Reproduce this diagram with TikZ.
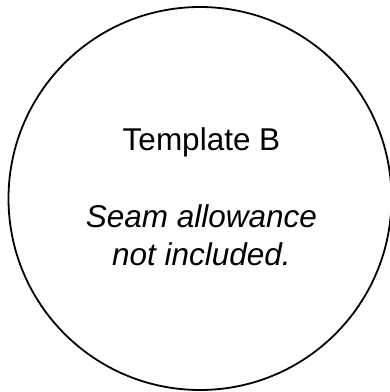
\documentclass[tikz,border=0pt]{standalone}
\usepackage{fontspec}
\setmainfont{Liberation Sans}
\begin{document}
\begin{tikzpicture}[x=1pt, y=1pt]
			\useasboundingbox (0,0) rectangle (390,392);

			\node[circle, draw, line width=1.8pt, minimum size=383pt, inner sep=0pt] (piece) at(200, 193.5){};

			\node[anchor=north, inner sep=0pt, align=center, font=\fontsize{31.5}{38}\selectfont] (label) at(201.5, 264.4){Template B\\[39pt]\textit{Seam allowance}\\\textit{not included.}};
		\end{tikzpicture}
\end{document}
